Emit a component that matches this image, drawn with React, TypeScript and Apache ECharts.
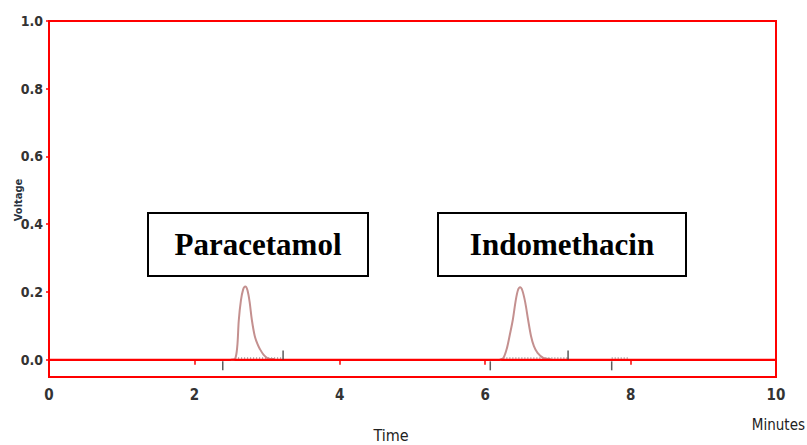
import React, { useEffect, useRef } from "react";
import * as echarts from "echarts";

// Chromatogram trace (time in minutes, voltage)
const paracetamolTrace: [number, number][] = [
  [2.5, 0], [2.56, 0.003], [2.59, 0.04], [2.61, 0.115], [2.64, 0.175], [2.67, 0.207],
  [2.7, 0.216], [2.73, 0.205], [2.76, 0.17], [2.79, 0.118], [2.83, 0.07], [2.87, 0.045],
  [2.9, 0.032], [2.95, 0.015], [3.01, 0.004], [3.1, 0.002],
];
const indomethacinTrace: [number, number][] = [
  [6.2, 0], [6.25, 0.005], [6.3, 0.035], [6.34, 0.075], [6.38, 0.118], [6.42, 0.175],
  [6.45, 0.205], [6.48, 0.214], [6.51, 0.205], [6.55, 0.17], [6.59, 0.118], [6.63, 0.07],
  [6.67, 0.04], [6.72, 0.02], [6.8, 0.005], [6.9, 0.002],
];
// integration markers
const markersAbove: number[] = [3.22, 7.14];
const markersBelow: number[] = [2.39, 6.07, 7.74];
// dotted baselines [start, end]
const baselines: [number, number][] = [[2.56, 3.22], [6.25, 7.14], [7.74, 7.98]];

const yTicks: number[] = [0, 0.2, 0.4, 0.6, 0.8, 1.0];
const xMin = 0;
const xMax = 10;
const xInterval = 2;
const yMin = -0.051;
const yMax = 1.0;

const peakLabels = ["Paracetamol", "Indomethacin"];

const narrow = "'Liberation Sans Narrow', 'DejaVu Sans Condensed', 'Arial Narrow', sans-serif";

export default function App() {
  const ref = useRef<HTMLDivElement>(null);
  useEffect(() => {
    if (!ref.current) return;
    const chart = echarts.init(ref.current, undefined, { renderer: "svg" });
    const baselineSeries = baselines.map((b) => ({
      type: "line",
      data: [[b[0], 0.005], [b[1], 0.005]],
      symbol: "none",
      lineStyle: { color: "#555", width: 1, type: [1, 2] },
      z: 1,
    }));
    chart.setOption({
      animation: false,
      backgroundColor: "#ffffff",
      grid: {
        left: 49,
        right: 31,
        top: 21,
        bottom: 68,
        show: true,
        borderColor: "#ff0000",
        borderWidth: 2,
      },
      xAxis: {
        type: "value",
        min: xMin,
        max: xMax,
        interval: xInterval,
        axisLine: { show: true, lineStyle: { color: "#ff0000", width: 2 } },
        axisTick: { show: true, length: 5, lineStyle: { color: "#ff0000", width: 1.5 } },
        splitLine: { show: false },
        axisLabel: {
          margin: 10,
          fontSize: 15,
          fontWeight: "bold",
          color: "#333",
          fontFamily: narrow,
        },
      },
      yAxis: {
        type: "value",
        min: yMin,
        max: yMax,
        axisLine: { show: true, lineStyle: { color: "#ff0000", width: 2 } },
        axisTick: { show: true, length: 3, customValues: yTicks, lineStyle: { color: "#ff0000", width: 1.5 } },
        splitLine: { show: false },
        axisLabel: {
          customValues: yTicks,
          margin: 6,
          fontSize: 14,
          fontWeight: "bold",
          color: "#333",
          fontFamily: narrow,
          formatter: (v: number) => v.toFixed(1),
        },
      },
      series: [
        ...baselineSeries,
        {
          type: "line",
          data: paracetamolTrace,
          symbol: "none",
          smooth: 0.3,
          lineStyle: { color: "#c4908f", width: 2 },
          z: 2,
        },
        {
          type: "line",
          data: indomethacinTrace,
          symbol: "none",
          smooth: 0.3,
          lineStyle: { color: "#c4908f", width: 2 },
          z: 2,
        },
        {
          type: "line",
          data: [[xMin, 0], [xMax, 0]],
          symbol: "none",
          lineStyle: { color: "#ff0000", width: 2 },
          z: 3,
        },
        {
          type: "scatter",
          data: markersAbove.map((t) => [t, 0.014]),
          symbol: "rect",
          symbolSize: [1.5, 9],
          itemStyle: { color: "#333" },
          z: 4,
        },
        {
          type: "scatter",
          data: markersBelow.map((t) => [t, -0.018]),
          symbol: "rect",
          symbolSize: [1.5, 9],
          itemStyle: { color: "#333" },
          z: 4,
        },
      ],
      graphic: [
        {
          type: "rect",
          shape: { x: 148, y: 213, width: 220, height: 63 },
          style: { fill: "#fff", stroke: "#000", lineWidth: 2 },
          z: 10,
        },
        {
          type: "text",
          x: 258,
          y: 244,
          style: {
            text: peakLabels[0],
            font: "bold 31px 'Liberation Serif', 'Times New Roman', serif",
            fill: "#000",
            align: "center",
            verticalAlign: "middle",
          },
          z: 11,
        },
        {
          type: "rect",
          shape: { x: 438, y: 213, width: 248, height: 63 },
          style: { fill: "#fff", stroke: "#000", lineWidth: 2 },
          z: 10,
        },
        {
          type: "text",
          x: 562,
          y: 244,
          style: {
            text: peakLabels[1],
            font: "bold 31px 'Liberation Serif', 'Times New Roman', serif",
            fill: "#000",
            align: "center",
            verticalAlign: "middle",
          },
          z: 11,
        },
        {
          type: "text",
          x: 18,
          y: 200,
          rotation: Math.PI / 2,
          style: {
            text: "Voltage",
            font: "bold 11px " + narrow,
            fill: "#2a3340",
            align: "center",
            verticalAlign: "middle",
          },
          z: 11,
        },
        {
          type: "text",
          x: 391,
          y: 435,
          style: {
            text: "Time",
            font: "16px " + narrow,
            fill: "#222",
            align: "center",
            verticalAlign: "middle",
          },
          z: 11,
        },
        {
          type: "text",
          x: 805,
          y: 425,
          style: {
            text: "Minutes",
            font: "15px " + narrow,
            fill: "#222",
            align: "right",
            verticalAlign: "middle",
          },
          z: 11,
        },
      ],
    });
    return () => chart.dispose();
  }, []);
  return <div ref={ref} style={{ width: 807, height: 445, position: "absolute", left: 0, top: 0 }} />;
}
